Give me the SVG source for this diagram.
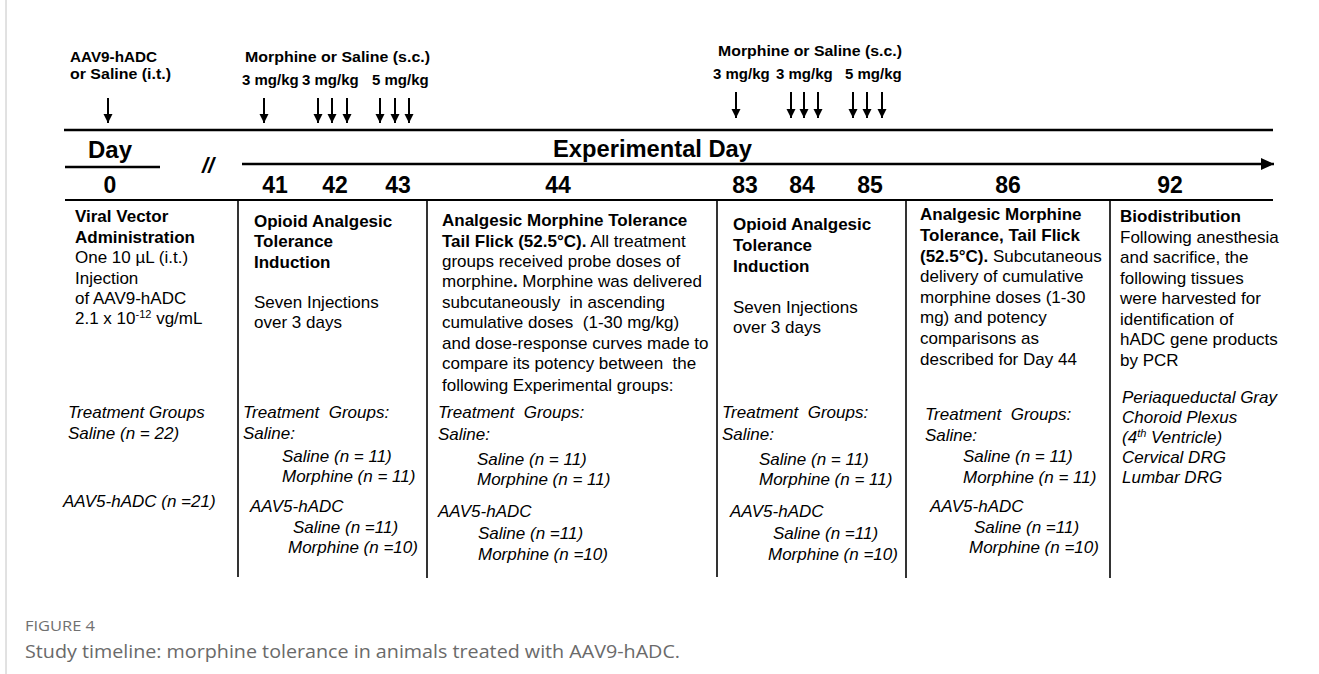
<svg xmlns="http://www.w3.org/2000/svg" width="1319" height="674" viewBox="0 0 1319 674">
<style>
text{font-family:"Liberation Sans",Arial,sans-serif;fill:#000;white-space:pre}
.lab{font-size:15px;font-weight:bold}
.big{font-size:23px;font-weight:bold}
.num{font-size:23px;font-weight:bold;text-anchor:middle}
.b{font-size:17px}
.bold{font-weight:bold}
.it{font-size:17px;font-style:italic}
.cap1{font-family:"Open Sans","Liberation Sans",sans-serif;font-size:14px;fill:#707070}
.cap2{font-family:"Open Sans","Liberation Sans",sans-serif;font-size:18px;fill:#6a6a6a}
.dose{stroke:#000;stroke-width:2;marker-end:url(#ah)}
.div{stroke:#000;stroke-width:1.6}
.tl{stroke:#000;stroke-width:2.6}
</style>
<defs>
<marker id="ah" markerUnits="userSpaceOnUse" markerWidth="10" markerHeight="10" refX="9" refY="5" orient="auto">
<path d="M0,0.5 L9,5 L0,9.5 Z" fill="#000"/>
</marker>
<marker id="big" markerUnits="userSpaceOnUse" markerWidth="14" markerHeight="14" refX="13" refY="7" orient="auto">
<path d="M0,1 L13,7 L0,13 Z" fill="#000"/>
</marker>
</defs>
<rect width="1319" height="674" fill="#fff"/>
<line x1="6" y1="0" x2="6" y2="674" stroke="#c4c4c4" stroke-width="1"/>

<g id="connectors">
<line class="dose" x1="108" y1="98" x2="108" y2="123"/>
<line class="dose" x1="264" y1="98" x2="264" y2="123"/>
<line class="dose" x1="318" y1="98" x2="318" y2="123"/>
<line class="dose" x1="332" y1="98" x2="332" y2="123"/>
<line class="dose" x1="347" y1="98" x2="347" y2="123"/>
<line class="dose" x1="380" y1="98" x2="380" y2="123"/>
<line class="dose" x1="395" y1="98" x2="395" y2="123"/>
<line class="dose" x1="409" y1="98" x2="409" y2="123"/>
<line class="dose" x1="736" y1="92" x2="736" y2="118"/>
<line class="dose" x1="791" y1="92" x2="791" y2="118"/>
<line class="dose" x1="804" y1="92" x2="804" y2="118"/>
<line class="dose" x1="818" y1="92" x2="818" y2="118"/>
<line class="dose" x1="853" y1="92" x2="853" y2="118"/>
<line class="dose" x1="867" y1="92" x2="867" y2="118"/>
<line class="dose" x1="882" y1="92" x2="882" y2="118"/>
<line class="tl" x1="64" y1="130" x2="1273" y2="130"/>
<line class="tl" x1="65" y1="167" x2="160" y2="167"/>
<line class="tl" x1="242" y1="164" x2="1274" y2="164" marker-end="url(#big)"/>
<line stroke="#000" stroke-width="2" x1="65" y1="200" x2="1273" y2="200"/>
<line class="div" x1="238" y1="200" x2="238" y2="577"/>
<line class="div" x1="427" y1="200" x2="427" y2="578"/>
<line class="div" x1="717" y1="200" x2="717" y2="577"/>
<line class="div" x1="906" y1="200" x2="906" y2="578"/>
<line class="div" x1="1110" y1="200" x2="1110" y2="578"/>
</g>

<g id="dose-labels">
<text class="lab" x="70" y="62" textLength="87" lengthAdjust="spacingAndGlyphs">AAV9-hADC</text>
<text class="lab" x="70" y="79" textLength="101" lengthAdjust="spacingAndGlyphs">or Saline (i.t.)</text>
<text class="lab" x="245" y="62" textLength="185" lengthAdjust="spacingAndGlyphs">Morphine or Saline (s.c.)</text>
<text class="lab" x="242" y="85">3 mg/kg</text>
<text class="lab" x="302" y="85">3 mg/kg</text>
<text class="lab" x="372" y="85">5 mg/kg</text>
<text class="lab" x="718" y="56" textLength="184" lengthAdjust="spacingAndGlyphs">Morphine or Saline (s.c.)</text>
<text class="lab" x="713" y="79">3 mg/kg</text>
<text class="lab" x="776" y="79">3 mg/kg</text>
<text class="lab" x="845" y="79">5 mg/kg</text>
</g>

<g id="day-axis">
<text class="big" x="88" y="158" textLength="44" lengthAdjust="spacingAndGlyphs">Day</text>
<text x="202" y="173" style="font-size:22px;font-weight:bold;font-style:italic">//</text>
<text class="big" x="553" y="157" textLength="199" lengthAdjust="spacingAndGlyphs">Experimental Day</text>
<text class="num" x="110" y="193">0</text>
<text class="num" x="275" y="193">41</text>
<text class="num" x="335" y="193">42</text>
<text class="num" x="398" y="193">43</text>
<text class="num" x="558" y="193">44</text>
<text class="num" x="745" y="193">83</text>
<text class="num" x="802" y="193">84</text>
<text class="num" x="870" y="193">85</text>
<text class="num" x="1008" y="193">86</text>
<text class="num" x="1170" y="193">92</text>
</g>

<g id="day0">
<text class="b bold" x="75" y="222">Viral Vector</text>
<text class="b bold" x="75" y="243">Administration</text>
<text class="b" x="75" y="263">One 10 µL (i.t.)</text>
<text class="b" x="75" y="284">Injection</text>
<text class="b" x="75" y="304">of AAV9-hADC</text>
<text class="b" x="75" y="324">2.1 x 10<tspan dy="-6" font-size="11">-12</tspan><tspan dy="6"> vg/mL</tspan></text>
<text class="it" x="68" y="418">Treatment Groups</text>
<text class="it" x="68" y="439">Saline (n = 22)</text>
<text class="it" x="63" y="507">AAV5-hADC (n =21)</text>
</g>

<g id="day41-43">
<text class="b bold" x="254" y="227">Opioid Analgesic</text>
<text class="b bold" x="254" y="247">Tolerance</text>
<text class="b bold" x="254" y="268">Induction</text>
<text class="b" x="254" y="308">Seven Injections</text>
<text class="b" x="254" y="328">over 3 days</text>
<text class="it" x="243" y="418">Treatment  Groups:</text>
<text class="it" x="243" y="439">Saline:</text>
<text class="it" x="282" y="462">Saline (n = 11)</text>
<text class="it" x="282" y="482">Morphine (n = 11)</text>
<text class="it" x="250" y="512">AAV5-hADC</text>
<text class="it" x="293" y="533">Saline (n =11)</text>
<text class="it" x="288" y="553">Morphine (n =10)</text>
</g>

<g id="day44">
<text class="b bold" x="442" y="226">Analgesic Morphine Tolerance</text>
<text class="b" x="442" y="247"><tspan font-weight="bold">Tail Flick (52.5°C).</tspan> All treatment</text>
<text class="b" x="442" y="267">groups received probe doses of</text>
<text class="b" x="442" y="287">morphine<tspan font-weight="bold">.</tspan> Morphine was delivered</text>
<text class="b" x="442" y="308">subcutaneously  in ascending</text>
<text class="b" x="442" y="328">cumulative doses  (1-30 mg/kg)</text>
<text class="b" x="442" y="349">and dose-response curves made to</text>
<text class="b" x="442" y="369">compare its potency between  the</text>
<text class="b" x="442" y="391">following Experimental groups:</text>
<text class="it" x="438" y="418">Treatment  Groups:</text>
<text class="it" x="438" y="440">Saline:</text>
<text class="it" x="477" y="465">Saline (n = 11)</text>
<text class="it" x="477" y="485">Morphine (n = 11)</text>
<text class="it" x="438" y="517">AAV5-hADC</text>
<text class="it" x="478" y="539">Saline (n =11)</text>
<text class="it" x="478" y="560">Morphine (n =10)</text>
</g>

<g id="day83-85">
<text class="b bold" x="733" y="230">Opioid Analgesic</text>
<text class="b bold" x="733" y="251">Tolerance</text>
<text class="b bold" x="733" y="272">Induction</text>
<text class="b" x="733" y="313">Seven Injections</text>
<text class="b" x="733" y="333">over 3 days</text>
<text class="it" x="722" y="418">Treatment  Groups:</text>
<text class="it" x="722" y="440">Saline:</text>
<text class="it" x="759" y="465">Saline (n = 11)</text>
<text class="it" x="759" y="485">Morphine (n = 11)</text>
<text class="it" x="730" y="517">AAV5-hADC</text>
<text class="it" x="773" y="539">Saline (n =11)</text>
<text class="it" x="768" y="560">Morphine (n =10)</text>
</g>

<g id="day86">
<text class="b bold" x="920" y="220">Analgesic Morphine</text>
<text class="b bold" x="920" y="241">Tolerance, Tail Flick</text>
<text class="b" x="920" y="262"><tspan font-weight="bold">(52.5°C).</tspan> Subcutaneous</text>
<text class="b" x="920" y="282">delivery of cumulative</text>
<text class="b" x="920" y="303">morphine doses (1-30</text>
<text class="b" x="920" y="323">mg) and potency</text>
<text class="b" x="920" y="344">comparisons as</text>
<text class="b" x="920" y="365">described for Day 44</text>
<text class="it" x="925" y="420">Treatment  Groups:</text>
<text class="it" x="925" y="441">Saline:</text>
<text class="it" x="963" y="462">Saline (n = 11)</text>
<text class="it" x="963" y="483">Morphine (n = 11)</text>
<text class="it" x="930" y="512">AAV5-hADC</text>
<text class="it" x="974" y="533">Saline (n =11)</text>
<text class="it" x="969" y="553">Morphine (n =10)</text>
</g>

<g id="day92">
<text class="b bold" x="1120" y="222">Biodistribution</text>
<text class="b" x="1120" y="243">Following anesthesia</text>
<text class="b" x="1120" y="263">and sacrifice, the</text>
<text class="b" x="1120" y="284">following tissues</text>
<text class="b" x="1120" y="304">were harvested for</text>
<text class="b" x="1120" y="325">identification of</text>
<text class="b" x="1120" y="345">hADC gene products</text>
<text class="b" x="1120" y="366">by PCR</text>
<text class="it" x="1122" y="403">Periaqueductal Gray</text>
<text class="it" x="1122" y="423">Choroid Plexus</text>
<text class="it" x="1122" y="443">(4<tspan dy="-6" font-size="11">th</tspan><tspan dy="6"> Ventricle)</tspan></text>
<text class="it" x="1122" y="463">Cervical DRG</text>
<text class="it" x="1122" y="483">Lumbar DRG</text>
</g>

<g id="caption">
<text class="cap1" x="25" y="631" textLength="70" lengthAdjust="spacingAndGlyphs">FIGURE 4</text>
<text class="cap2" x="25" y="658" textLength="655" lengthAdjust="spacingAndGlyphs">Study timeline: morphine tolerance in animals treated with AAV9-hADC.</text>
</g>
</svg>
